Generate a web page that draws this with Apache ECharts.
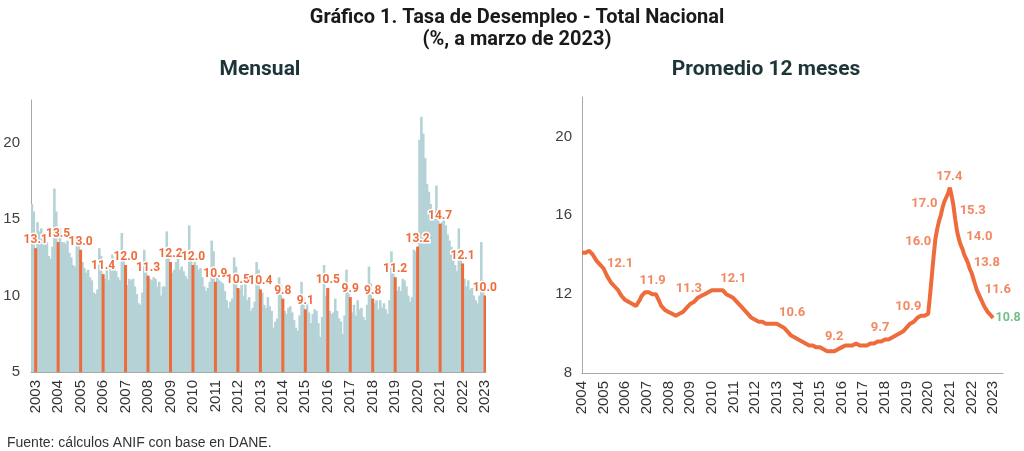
<!DOCTYPE html>
<html>
<head>
<meta charset="utf-8">
<script src="https://cdn.jsdelivr.net/npm/echarts@6/dist/echarts.min.js"></script>
<style>
  html, body { margin: 0; padding: 0; background: #fff; }
  #main { width: 1024px; height: 451px; }
</style>
</head>
<body>
<div id="main"></div>
<script>
// años del eje mensual (ene 2003 - mar 2023)
var anios = [2003, 2004, 2005, 2006, 2007, 2008, 2009, 2010, 2011, 2012, 2013,
  2014, 2015, 2016, 2017, 2018, 2019, 2020, 2021, 2022, 2023];

// tasa de desempleo mensual, % (ene-dic de cada año)
var mensual = [
  16.0, 15.5, 13.1, 14.8, 14.2, 14.4, 13.9, 13.6, 13.5, 12.6, 12.4, 13.2,
  17.0, 15.5, 13.5, 14.4, 13.5, 13.5, 13.4, 13.6, 12.8, 12.5, 12.0, 11.9,
  13.9, 13.7, 13.0, 12.2, 11.8, 11.5, 11.7, 11.2, 11.0, 10.2, 10.1, 10.4,
  13.1, 12.6, 11.4, 11.1, 11.8, 11.0, 11.8, 12.7, 12.1, 11.6, 11.2, 11.0,
  14.1, 12.4, 12.0, 10.7, 11.1, 11.0, 11.1, 10.6, 10.1, 9.5, 9.4, 10.2,
  13.0, 11.8, 11.3, 11.1, 11.0, 11.2, 11.1, 10.6, 10.9, 10.0, 10.6, 10.6,
  14.2, 12.7, 12.2, 11.5, 11.7, 12.2, 12.4, 11.7, 11.9, 11.6, 11.3, 11.1,
  14.6, 12.6, 12.0, 12.2, 12.0, 11.7, 11.8, 11.2, 10.6, 10.3, 10.5, 10.9,
  13.6, 12.9, 10.9, 11.2, 11.0, 10.9, 10.8, 10.3, 9.7, 9.2, 9.6, 9.8,
  12.5, 11.9, 10.5, 10.4, 10.7, 10.0, 11.0, 9.7, 9.9, 9.0, 9.2, 9.6,
  12.2, 11.7, 10.4, 10.2, 9.4, 9.2, 9.9, 9.3, 9.0, 7.9, 8.3, 8.5,
  11.2, 10.7, 9.8, 9.0, 8.8, 9.2, 9.3, 8.9, 8.4, 7.9, 7.7, 8.7,
  10.9, 9.9, 9.1, 9.5, 8.9, 8.2, 8.8, 9.1, 9.0, 8.2, 7.3, 8.6,
  12.0, 10.0, 10.5, 9.0, 8.8, 8.9, 9.8, 9.0, 8.5, 8.3, 7.5, 8.7,
  11.7, 10.5, 9.9, 8.9, 9.4, 8.7, 9.7, 9.1, 9.2, 8.6, 8.4, 9.4,
  11.9, 10.8, 9.8, 9.5, 9.7, 9.1, 9.7, 9.2, 9.5, 9.1, 8.8, 9.7,
  12.9, 11.8, 11.2, 10.3, 10.6, 10.3, 11.1, 11.0, 10.6, 10.0, 9.6, 9.9,
  13.0, 12.9, 13.2, 20.2, 21.7, 20.6, 19.0, 17.3, 16.8, 16.0, 15.6, 15.2,
  17.2, 15.3, 14.7, 14.8, 15.0, 14.6, 14.0, 13.6, 13.2, 12.5, 12.0, 11.6,
  14.4, 12.9, 12.1, 11.1, 10.6, 11.0, 10.4, 10.5, 10.0, 9.7, 9.5, 10.0,
  13.5, 11.0, 10.0
];

// años del eje del promedio (cada marzo, 2004 - 2023)
var aniosProm = [2004, 2005, 2006, 2007, 2008, 2009, 2010, 2011, 2012, 2013,
  2014, 2015, 2016, 2017, 2018, 2019, 2020, 2021, 2022, 2023];

// promedio 12 meses, % (mar 2004 - mar 2023, mar-feb por fila)
var promedio12 = [
  14.1, 14.1, 14.1, 14.2, 14.2, 14.1, 14.0, 13.9, 13.7, 13.6, 13.5, 13.4,
  13.3, 13.1, 12.9, 12.8, 12.6, 12.5, 12.4, 12.3, 12.2, 12.1, 11.9, 11.8,
  11.7, 11.6, 11.6, 11.5, 11.5, 11.4, 11.4, 11.5, 11.7, 11.9, 12.0, 12.1,
  12.1, 12.1, 12.1, 12.0, 12.0, 12.0, 11.8, 11.6, 11.4, 11.3, 11.2, 11.1,
  11.1, 11.0, 11.0, 11.0, 10.9, 10.9, 11.0, 11.1, 11.1, 11.2, 11.3, 11.4,
  11.5, 11.6, 11.6, 11.7, 11.8, 11.8, 11.9, 12.0, 12.0, 12.1, 12.1, 12.2,
  12.2, 12.1, 12.2, 12.2, 12.2, 12.3, 12.2, 12.1, 12.0, 11.9, 11.9, 11.8,
  11.8, 11.7, 11.6, 11.5, 11.4, 11.3, 11.2, 11.1, 11.0, 10.9, 10.8, 10.8,
  10.7, 10.7, 10.6, 10.6, 10.6, 10.6, 10.5, 10.5, 10.5, 10.5, 10.5, 10.5,
  10.5, 10.4, 10.4, 10.3, 10.3, 10.2, 10.1, 10.0, 9.9, 9.9, 9.8, 9.7,
  9.7, 9.7, 9.6, 9.6, 9.5, 9.5, 9.4, 9.4, 9.4, 9.3, 9.3, 9.3,
  9.3, 9.2, 9.2, 9.1, 9.1, 9.1, 9.1, 9.1, 9.1, 9.1, 9.2, 9.2,
  9.3, 9.3, 9.4, 9.4, 9.4, 9.4, 9.4, 9.4, 9.5, 9.4, 9.4, 9.4,
  9.4, 9.4, 9.4, 9.4, 9.5, 9.5, 9.5, 9.5, 9.6, 9.6, 9.6, 9.6,
  9.7, 9.7, 9.7, 9.8, 9.8, 9.8, 9.9, 9.9, 10.0, 10.0, 10.1, 10.2,
  10.3, 10.4, 10.5, 10.5, 10.6, 10.7, 10.8, 10.8, 10.9, 10.9, 10.9, 10.9,
  11.0, 11.9, 12.9, 13.9, 14.8, 15.3, 15.7, 16.0, 16.4, 16.7, 16.9, 17.1,
  17.4, 17.0, 16.5, 15.8, 15.2, 14.8, 14.5, 14.3, 14.0, 13.8, 13.6, 13.3,
  13.1, 12.8, 12.5, 12.2, 12.0, 11.8, 11.6, 11.4, 11.3, 11.1, 11.0, 10.9,
  10.8
];

// etiquetas del promedio: mes (desde mar 2004), altura en el eje y texto
var etqMes = [21.1, 39.2, 59.3, 83.9, 116.5, 139.9, 165.3, 181.0, 186.5, 189.9, 203.7, 216.7, 220.4, 224.5, 230.6];
var etqPos = [13.56, 12.69, 12.27, 12.78, 11.06, 9.85, 10.28, 11.35, 14.67, 16.57, 17.98, 16.23, 14.90, 13.60, 12.20];
var etqTexto = ['12.1', '11.9', '11.3', '12.1', '10.6', '9.2', '9.7', '10.9', '16.0', '17.0', '17.4', '15.3', '14.0', '13.8', '11.6'];

var naranja = '#ee6b3b';
var azul = '#b5d3d7';
var verde = '#4caf6a';
var ejeColor = '#a8a8a8';

var categorias = [];
for (var i = 0; i < mensual.length; i++) {
  categorias.push(anios[Math.floor(i / 12)] + '-' + (i % 12 + 1));
}
var marzos = mensual.map(function (v, i) { return i % 12 === 2 ? v : '-'; });

var lineaProm = promedio12.map(function (v, i) { return [i, v]; });
var ult = promedio12.length - 1;
var etiquetas = etqMes.map(function (m, k) { return [m, etqPos[k], etqTexto[k]]; });

var myChart = echarts.init(document.getElementById('main'));

var option = {
  backgroundColor: '#fff',
  animation: false,
  title: [
    {
      text: 'Gráfico 1. Tasa de Desempleo - Total Nacional\n(%, a marzo de 2023)',
      left: 512, top: 2, textAlign: 'center',
      textStyle: { fontFamily: 'Roboto', fontWeight: 'bold', fontSize: 20, lineHeight: 22, color: '#1a1a1a' }
    },
    {
      text: 'Mensual', left: 255, top: 54, textAlign: 'center',
      textStyle: { fontFamily: 'Roboto', fontWeight: 'bold', fontSize: 21, color: '#1d3538' }
    },
    {
      text: 'Promedio 12 meses', left: 761, top: 54, textAlign: 'center',
      textStyle: { fontFamily: 'Roboto', fontWeight: 'bold', fontSize: 21, color: '#1d3538' }
    },
    {
      text: 'Fuente: cálculos ANIF con base en DANE.', left: 2, top: 431,
      textStyle: { fontFamily: 'Liberation Sans', fontWeight: 'normal', fontSize: 14, color: '#333' }
    }
  ],
  grid: [
    { left: 31, top: 100, width: 455, height: 272 },
    { left: 582, top: 97, width: 421, height: 276 }
  ],
  xAxis: [
    {
      type: 'category', gridIndex: 0, data: categorias,
      axisLine: { lineStyle: { color: ejeColor } },
      axisTick: { show: false },
      axisLabel: {
        interval: function (idx) { return idx % 12 === 2; },
        formatter: function (v) { return v.slice(0, 4); },
        rotate: 90, margin: 8, fontFamily: 'Liberation Sans', fontSize: 15, color: '#333'
      }
    },
    { type: 'category', gridIndex: 0, data: categorias, show: false },
    {
      type: 'value', gridIndex: 1, min: 0, max: 233.5, interval: 12,
      axisLine: { show: true, lineStyle: { color: ejeColor } },
      axisTick: { show: false },
      splitLine: { show: false },
      axisLabel: {
        showMaxLabel: false,
        formatter: function (v) { return v % 12 === 0 ? String(aniosProm[v / 12]) : ''; },
        rotate: 90, margin: 8, fontFamily: 'Liberation Sans', fontSize: 15, color: '#333'
      }
    }
  ],
  yAxis: [
    {
      type: 'value', gridIndex: 0, min: 5, max: 22.8, interval: 5,
      axisLine: { show: true, lineStyle: { color: ejeColor } },
      axisTick: { show: false },
      splitLine: { show: false },
      axisLabel: { showMaxLabel: false, margin: 11, fontFamily: 'Liberation Sans', fontSize: 15, color: '#404040' }
    },
    {
      type: 'value', gridIndex: 1, min: 8, max: 22, interval: 4,
      axisLine: { show: true, lineStyle: { color: ejeColor } },
      axisTick: { show: false },
      splitLine: { show: false },
      axisLabel: { showMaxLabel: false, margin: 10, fontFamily: 'Liberation Sans', fontSize: 15, color: '#404040' }
    }
  ],
  series: [
    {
      name: 'Mensual', type: 'bar', xAxisIndex: 0, yAxisIndex: 0,
      data: mensual, barWidth: 2.6,
      itemStyle: { color: azul }
    },
    {
      name: 'Marzo', type: 'bar', xAxisIndex: 1, yAxisIndex: 0,
      data: marzos, barWidth: 3, z: 3,
      itemStyle: { color: naranja },
      label: {
        show: true, position: 'top', distance: 2,
        color: naranja, fontFamily: 'Roboto', fontWeight: 'bold', fontSize: 12,
        textBorderColor: '#fff', textBorderWidth: 3,
        formatter: function (p) { return p.value.toFixed(1); }
      }
    },
    {
      name: 'Promedio 12 meses', type: 'line', xAxisIndex: 2, yAxisIndex: 1,
      data: lineaProm, showSymbol: false, symbol: 'none',
      lineStyle: { color: naranja, width: 4 },
      itemStyle: { color: naranja }
    },
    {
      name: 'Etiquetas', type: 'scatter', xAxisIndex: 2, yAxisIndex: 1,
      data: etiquetas, symbolSize: 0, clip: false, silent: true,
      label: {
        show: true, position: 'inside',
        color: naranja, fontFamily: 'Roboto', fontWeight: 'bold', fontSize: 13,
        formatter: function (p) { return p.value[2]; }
      }
    },
    {
      name: 'Último', type: 'scatter', xAxisIndex: 2, yAxisIndex: 1,
      data: [[ult, promedio12[ult]]], symbolSize: 1, clip: false, silent: true,
      itemStyle: { color: naranja },
      label: {
        show: true, position: 'right', distance: 2,
        color: verde, fontFamily: 'Roboto', fontWeight: 'bold', fontSize: 12.5,
        formatter: function (p) { return p.value[1].toFixed(1); }
      }
    }
  ]
};
myChart.setOption(option);
</script>
</body>
</html>
